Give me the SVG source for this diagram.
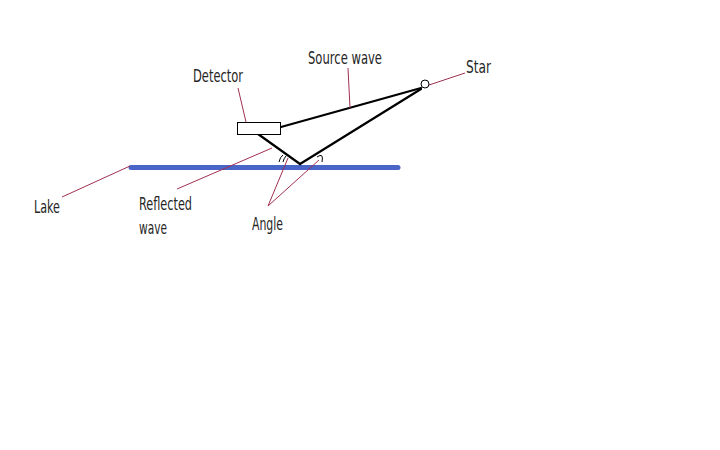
<svg xmlns="http://www.w3.org/2000/svg" width="720" height="450" viewBox="0 0 720 450">
<style>
.lbl{font-family:"DejaVu Sans Condensed","Liberation Sans Narrow","Liberation Sans",sans-serif;font-size:18px;fill:#262626}
.lead{stroke:#a03050;stroke-width:1;fill:none}
.ray{stroke:#000;stroke-width:2.2;fill:none;stroke-linecap:round}
.arc{stroke:#000;stroke-width:1;fill:none}
</style>
<rect width="720" height="450" fill="#fff"/>
<g id="lake"><line x1="131" y1="167.5" x2="398" y2="167.5" stroke="#4a65c8" stroke-width="5" stroke-linecap="round"/></g>
<g id="connectors">
<line class="ray" x1="281" y1="127" x2="421" y2="88"/>
<line class="ray" x1="421" y1="89" x2="300" y2="164"/>
<line class="ray" x1="258" y1="134" x2="300" y2="164"/>
<path class="arc" d="M279,162 Q280,157 283,155 M283,162 Q284,158 286,156"/>
<path class="arc" d="M317,157 Q324,152 322,162"/>
<line class="lead" x1="238" y1="88" x2="246" y2="122"/>
<line class="lead" x1="348" y1="68" x2="350" y2="108"/>
<line class="lead" x1="465" y1="73" x2="429" y2="85"/>
<line class="lead" x1="62" y1="197" x2="130" y2="166"/>
<line class="lead" x1="177" y1="189" x2="272" y2="148"/>
<line class="lead" x1="268" y1="206" x2="288" y2="158"/>
<line class="lead" x1="268" y1="206" x2="319" y2="160"/>
</g>
<g id="detector"><rect x="237.5" y="122.5" width="43" height="12" fill="#fff" stroke="#000" stroke-width="1"/><text class="lbl" x="193" y="82" textLength="50" lengthAdjust="spacingAndGlyphs">Detector</text></g>
<g id="star"><circle cx="425" cy="84" r="4" fill="#fff" stroke="#000" stroke-width="1"/><text class="lbl" x="466" y="73" textLength="25" lengthAdjust="spacingAndGlyphs">Star</text></g>
<g id="source-wave"><text class="lbl" x="308" y="64" textLength="74" lengthAdjust="spacingAndGlyphs">Source wave</text></g>
<g id="lake-label"><text class="lbl" x="34" y="213" textLength="26" lengthAdjust="spacingAndGlyphs">Lake</text></g>
<g id="reflected-wave"><text class="lbl" x="139" y="210" textLength="53" lengthAdjust="spacingAndGlyphs">Reflected</text><text class="lbl" x="139" y="234" textLength="28" lengthAdjust="spacingAndGlyphs">wave</text></g>
<g id="angle"><text class="lbl" x="252" y="230" textLength="31" lengthAdjust="spacingAndGlyphs">Angle</text></g>
</svg>
